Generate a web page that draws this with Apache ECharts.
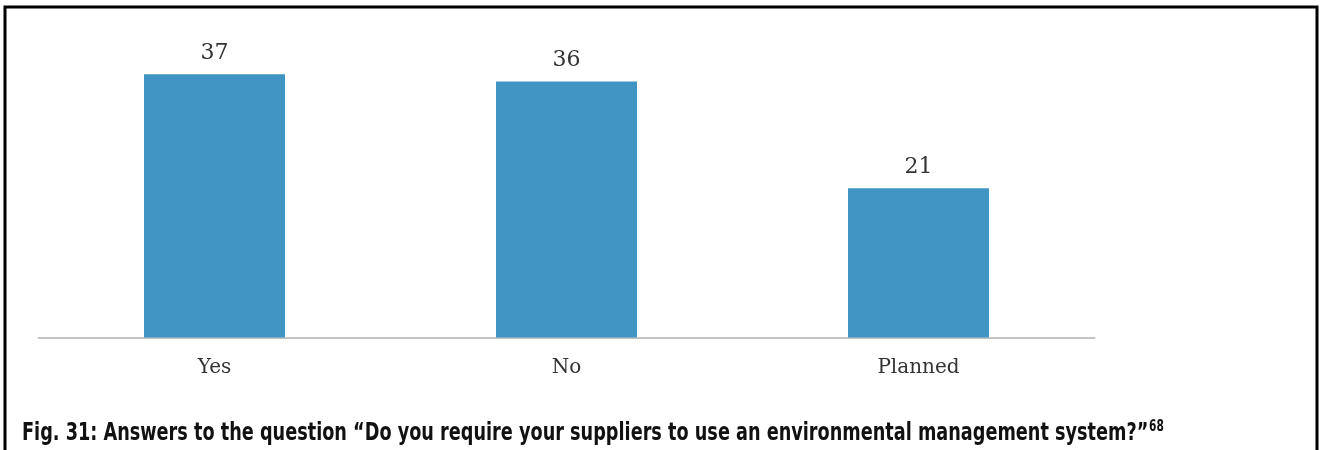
<!DOCTYPE html>
<html>
<head>
<meta charset="utf-8">
<script src="https://cdn.jsdelivr.net/npm/echarts@6/dist/echarts.min.js"></script>
<style>
  html, body { margin: 0; padding: 0; background: #ffffff; }
  #chart { width: 1322px; height: 450px; }
</style>
</head>
<body>
<div id="chart"></div>
<script>
// Survey answers: do companies require suppliers to use an environmental management system?
const categories = ['Yes', 'No', 'Planned'];
const answerCounts = [37, 36, 21];
const captionText = 'Fig. 31: Answers to the question \u201CDo you require your suppliers to use an environmental management system?\u201D';
const footnoteRef = '68';

const chart = echarts.init(document.getElementById('chart'), null, { renderer: 'canvas' });

chart.setOption({
  animation: false,
  backgroundColor: '#ffffff',
  grid: { left: 38.5, right: 227.5, top: 53, bottom: 112.5, containLabel: false },
  xAxis: {
    type: 'category',
    data: categories,
    axisLine: { show: true, lineStyle: { color: '#c4c4c4', width: 2 } },
    axisTick: { show: false },
    axisLabel: {
      margin: 20,
      color: '#333333',
      fontFamily: 'DejaVu Serif',
      fontSize: 20
    }
  },
  yAxis: {
    type: 'value',
    min: 0,
    max: 40,
    show: false,
    splitLine: { show: false }
  },
  series: [{
    type: 'bar',
    data: answerCounts,
    barWidth: 141,
    itemStyle: { color: '#4195c4' },
    label: {
      show: true,
      position: 'top',
      distance: 10,
      color: '#333333',
      fontFamily: 'DejaVu Serif',
      fontSize: 22
    }
  }],
  graphic: [
    {
      type: 'rect',
      shape: { x: 5, y: 7, width: 1312, height: 520 },
      style: { fill: null, stroke: '#000000', lineWidth: 3 },
      silent: true
    },
    {
      // condensed caption: the bold sans is narrowed horizontally
      type: 'text',
      x: 22,
      y: 420,
      scaleX: 0.786,
      scaleY: 1,
      style: {
        text: '{main|' + captionText + '}{sup|' + footnoteRef + '}',
        textVerticalAlign: 'top',
        rich: {
          main: {
            fontFamily: 'DejaVu Sans Condensed',
            fontWeight: 'bold',
            fontSize: 25,
            fill: '#111111',
            verticalAlign: 'bottom'
          },
          sup: {
            fontFamily: 'DejaVu Sans Condensed',
            fontWeight: 'bold',
            fontSize: 15,
            fill: '#111111',
            padding: [0, 0, 11, 1],
            verticalAlign: 'bottom'
          }
        }
      }
    }
  ]
});
</script>
</body>
</html>
